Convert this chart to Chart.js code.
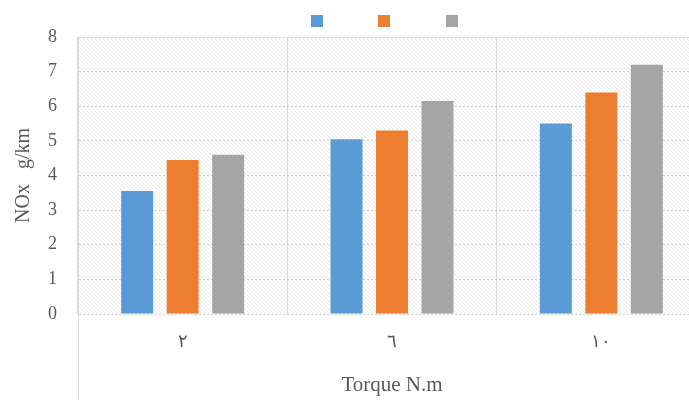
<!DOCTYPE html>
<html>
<head>
<meta charset="utf-8">
<script src="https://cdn.jsdelivr.net/npm/chart.js@4"></script>
<style>
  html, body { margin: 0; padding: 0; background: #fff; overflow: hidden; }
  #wrap { width: 720px; height: 400px; }
</style>
</head>
<body>
<div id="wrap"><canvas id="grafico"></canvas></div>
<script>
// datos
const categorias = ['٢', '٦', '١٠'];
const serie1 = [3.55, 5.05, 5.5];
const serie2 = [4.45, 5.3, 6.4];
const serie3 = [4.6, 6.15, 7.2];
const nombresSeries = ['', '', ''];
const coloresSeries = ['#5b9bd5', '#ed7d31', '#a5a5a5'];
const ticksY = [0, 1, 2, 3, 4, 5, 6, 7, 8];

const fuente = "'Liberation Serif', 'Times New Roman', serif";

// fondo rayado del área del gráfico
function crearTrama() {
    const c = document.createElement('canvas');
    c.width = 4;
    c.height = 4;
    const g = c.getContext('2d');
    g.fillStyle = '#ffffff';
    g.fillRect(0, 0, 4, 4);
    g.strokeStyle = '#e9e9e9';
    g.lineWidth = 1;
    g.beginPath();
    g.moveTo(-1, -1);
    g.lineTo(5, 5);
    g.stroke();
    return c;
}

const fondoPlugin = {
    id: 'fondo',
    beforeDraw(chart) {
        const {ctx, chartArea: a} = chart;
        ctx.save();
        ctx.fillStyle = ctx.createPattern(crearTrama(), 'repeat');
        ctx.fillRect(a.left, a.top, a.right - a.left, a.bottom - a.top);
        ctx.restore();
    },
    afterDraw(chart) {
        const {ctx, chartArea: a} = chart;
        // línea izquierda que baja hasta el borde
        ctx.save();
        ctx.strokeStyle = '#d9d9d9';
        ctx.lineWidth = 1;
        ctx.beginPath();
        ctx.moveTo(a.left + 0.5, a.bottom);
        ctx.lineTo(a.left + 0.5, chart.height);
        ctx.stroke();

        // leyenda: solo cuadros de color
        const centro = 384;
        const paso = 67.5;
        const lado = 12;
        chart.data.datasets.forEach((ds, i) => {
            const x = centro + (i - 1) * paso - lado / 2;
            ctx.fillStyle = ds.backgroundColor;
            ctx.fillRect(Math.round(x), 15, lado, lado);
        });
        ctx.restore();
    }
};

const ctx = document.getElementById('grafico').getContext('2d');
const grafico = new Chart(ctx, {
    type: 'bar',
    data: {
        labels: categorias,
        datasets: [serie1, serie2, serie3].map((valores, i) => ({
            label: nombresSeries[i],
            data: valores,
            backgroundColor: coloresSeries[i],
            borderWidth: 0,
            categoryPercentage: 0.652,
            barPercentage: 0.703
        }))
    },
    options: {
        responsive: true,
        maintainAspectRatio: false,
        animation: false,
        layout: {
            padding: { top: 37, right: 14, bottom: 0, left: 0 }
        },
        plugins: {
            legend: { display: false },
            tooltip: { enabled: false }
        },
        scales: {
            x: {
                grid: {
                    color: '#d9d9d9',
                    drawTicks: false,
                    offset: true
                },
                border: { display: false },
                ticks: {
                    color: '#595959',
                    padding: 17,
                    font: { family: fuente, size: 18 }
                },
                title: {
                    display: true,
                    text: 'Torque N.m',
                    color: '#595959',
                    font: { family: fuente, size: 21 },
                    padding: { top: 0, bottom: 1.5 }
                },
                afterFit(scale) {
                    scale.height = 86;
                }
            },
            y: {
                min: ticksY[0],
                max: ticksY[ticksY.length - 1],
                afterBuildTicks(scale) {
                    scale.ticks = ticksY.map(v => ({ value: v }));
                },
                grid: {
                    color: '#d0d0d0',
                    drawTicks: false
                },
                border: { color: '#d9d9d9', dash: [2, 2] },
                ticks: {
                    color: '#595959',
                    padding: 21,
                    font: { family: fuente, size: 18 }
                },
                title: {
                    display: true,
                    text: 'NOx   g/km',
                    color: '#595959',
                    font: { family: fuente, size: 20 },
                    padding: { top: 12, bottom: 0 }
                },
                afterFit(scale) {
                    scale.width = 78;
                }
            }
        }
    },
    plugins: [fondoPlugin]
});
</script>
</body>
</html>
